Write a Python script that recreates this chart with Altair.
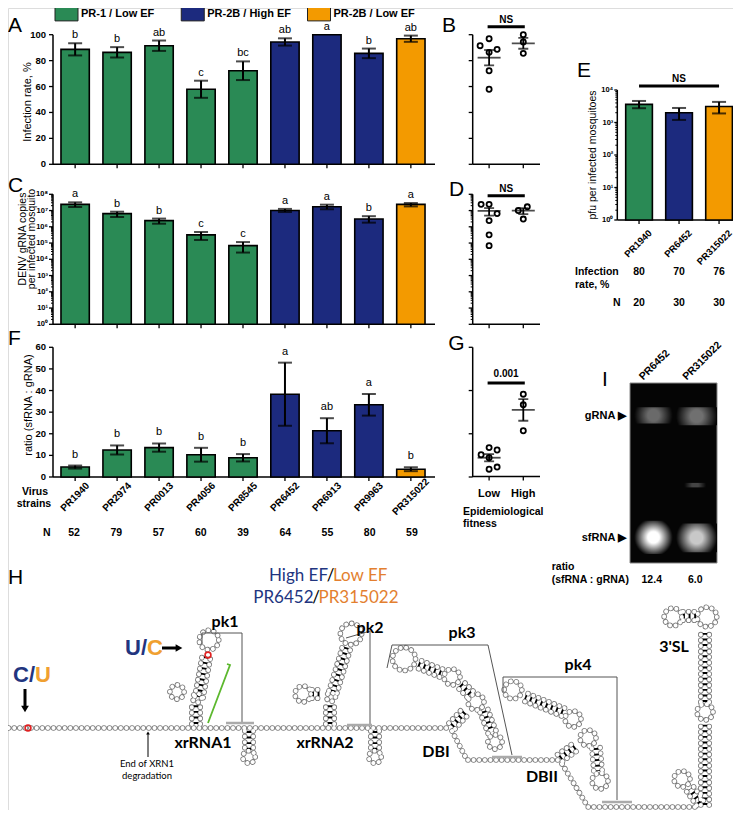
import math
import altair as alt
import pandas as pd

FONT = "Liberation Sans"
HFONT = "Lato"
OFF = 8
W, H = 725, 802


def c(v):
    return v - OFF


# ---------------- data ----------------
strains = ["PR1940", "PR2974", "PR0013", "PR4056", "PR8545", "PR6452", "PR6913", "PR9963", "PR315022"]
lineage = ["PR-1 / Low EF"] * 5 + ["PR-2B / High EF"] * 3 + ["PR-2B / Low EF"]
fitness = ["Low"] * 5 + ["High"] * 3 + ["Low"]
lineages = ["PR-1 / Low EF", "PR-2B / High EF", "PR-2B / Low EF"]
lineage_colors = ["#2a8a55", "#1c2a7e", "#f39a00"]

infection_rate = [88.7, 86.4, 91.5, 57.9, 72.2, 94.4, 100.0, 85.6, 96.9]
infection_sem = [4.7, 4.0, 4.0, 6.6, 7.2, 2.8, 0.0, 3.7, 2.4]
infection_letters = ["b", "b", "ab", "c", "bc", "ab", "a", "b", "ab"]

grna_copies = [2.4e7, 6.5e6, 2.4e6, 3.2e5, 6.9e4, 1.0e7, 1.7e7, 3.0e6, 2.4e7]
grna_low = [1.66e7, 4.0e6, 1.55e6, 1.55e5, 2.6e4, 8.1e6, 1.2e7, 1.8e6, 1.8e7]
grna_high = [3.2e7, 8.5e6, 3.2e6, 4.8e5, 1.15e5, 1.26e7, 2.3e7, 4.5e6, 2.9e7]
grna_letters = ["a", "b", "b", "c", "c", "a", "a", "b", "a"]

sf_ratio = [4.6, 12.5, 13.6, 10.3, 8.9, 38.3, 21.4, 33.4, 3.6]
sf_ratio_sem = [0.7, 2.1, 1.9, 3.2, 1.7, 14.6, 5.8, 5.0, 0.9]
sf_letters = ["b", "b", "b", "b", "b", "a", "ab", "a", "b"]
n_mosquitoes = [52, 79, 57, 60, 39, 64, 55, 80, 59]

e_strains = ["PR1940", "PR6452", "PR315022"]
e_lineage = ["PR-1 / Low EF", "PR-2B / High EF", "PR-2B / Low EF"]
pfu = [3.6e3, 2.0e3, 3.1e3]
pfu_low = [2.75e3, 1.2e3, 1.9e3]
pfu_high = [4.6e3, 2.8e3, 4.3e3]
e_infection = [80, 70, 76]
e_n = [20, 30, 30]

gel_lanes = ["PR6452", "PR315022"]
gel_ratio = ["12.4", "6.0"]
band_x0 = [0.1, 1.06, 0.1, 1.06, 1.25]
band_x1 = [0.98, 2.0, 0.98, 2.0, 1.75]
band_y0 = [0.775, 0.765, 0.05, 0.06, 0.42]
band_y1 = [0.865, 0.865, 0.235, 0.22, 0.445]
band_peak = ["#6a6a6a", "#707070", "#ffffff", "#c8c8c8", "#444444"]

# layout only: horizontal spread of overlapping dots (px)
jitter_B = [8, 0, -9, 0, 0, 0, 0, 0, 0]
jitter_D = [-8, 8, 0, 0, 0, -5, 4, 0, 0]
jitter_G = [8, 8, 0, -8, 0, 0, 0, 0, 0]

col = dict(zip(lineages, lineage_colors))
df = pd.DataFrame({
    "strain": strains, "lineage": lineage, "color": [col[l] for l in lineage], "fitness": fitness,
    "inf": infection_rate, "inf_sem": infection_sem, "inf_let": infection_letters,
    "grna": grna_copies, "grna_lo": grna_low, "grna_hi": grna_high, "grna_let": grna_letters,
    "ratio": sf_ratio, "ratio_sem": sf_ratio_sem, "ratio_let": sf_letters, "n": n_mosquitoes,
    "jB": jitter_B, "jD": jitter_D, "jG": jitter_G,
})
df["inf_lo"] = df["inf"] - df["inf_sem"]
df["inf_hi"] = df["inf"] + df["inf_sem"]
df["ratio_lo"] = df["ratio"] - df["ratio_sem"]
df["ratio_hi"] = df["ratio"] + df["ratio_sem"]

dfE = pd.DataFrame({"strain": e_strains, "color": [col[l] for l in e_lineage], "pfu": pfu,
                    "lo": pfu_low, "hi": pfu_high, "inf": e_infection, "n": e_n})
ANCHOR = pd.DataFrame({"k": [0]})

SUPS = ["\u2070", "\u00b9", "\u00b2", "\u00b3", "\u2074", "\u2075", "\u2076", "\u2077", "\u2078"]


def log_major(n):
    return [10 ** d for d in range(n + 1)]


def log_minor(n):
    return [k * 10 ** d for d in range(n) for k in range(2, 10)]


def log_labels(n):
    return ["10" + SUPS[d] for d in range(n + 1)]


# ---------- hand-built axes, drawn through each panel's scales ----------
def y_axis(ys, pos, dom, major, labels=None, minor=None, tick=4, minor_tick=2, size=9.5, pad=3):
    parts = [alt.Chart(ANCHOR).mark_rule(color="black", strokeWidth=1.5).encode(
        x=alt.value(pos), y=alt.Y(datum=dom[0], scale=ys, axis=None), y2=alt.datum(dom[1]))]
    mdf = pd.DataFrame({"v": major, "lab": labels if labels else [""] * len(major)})
    parts.append(alt.Chart(mdf).mark_rule(color="black", strokeWidth=1.3).encode(
        x=alt.value(pos - tick), x2=alt.value(pos), y=alt.Y("v:Q", scale=ys, axis=None)))
    if minor:
        parts.append(alt.Chart(pd.DataFrame({"v": minor})).mark_rule(color="black", strokeWidth=1).encode(
            x=alt.value(pos - minor_tick), x2=alt.value(pos), y=alt.Y("v:Q", scale=ys, axis=None)))
    if labels:
        parts.append(alt.Chart(mdf).mark_text(align="right", baseline="middle", font=FONT, fontSize=size,
                                              fontWeight="bold", color="black").encode(
            x=alt.value(pos - tick - pad), y=alt.Y("v:Q", scale=ys, axis=None), text="lab:N"))
    return parts


def x_axis(xs, field, cats, pos, x0, x1, tick=4):
    return [
        alt.Chart(ANCHOR).mark_rule(color="black", strokeWidth=1.5).encode(
            x=alt.value(x0), x2=alt.value(x1), y=alt.value(pos)),
        alt.Chart(pd.DataFrame({field: cats})).mark_rule(color="black", strokeWidth=1.3).encode(
            x=alt.X(f"{field}:N", scale=xs, axis=None), y=alt.value(pos), y2=alt.value(pos + tick)),
    ]


def x_labels(xs, cats, ypos, size=10, angle=315, dx=0, dy=0, align="center", baseline="middle"):
    kw = dict(font=FONT, fontSize=size, fontWeight="bold", color="black", align=align, baseline=baseline)
    if angle:
        kw["angle"] = angle
    if dx:
        kw["dx"] = dx
    if dy:
        kw["dy"] = dy
    return alt.Chart(pd.DataFrame({"cat": cats})).mark_text(**kw).encode(
        x=alt.X("cat:N", scale=xs, axis=None), y=alt.value(ypos), text="cat:N")


def note(s, x, y, size=11, weight="normal", align="center", color="black", font=FONT, baseline="middle", angle=0):
    kw = dict(text=s, fontSize=size, fontWeight=weight, align=align, baseline=baseline, color=color, font=font)
    if angle:
        kw["angle"] = angle
    return alt.Chart(ANCHOR).mark_text(**kw).encode(x=alt.value(c(x)), y=alt.value(c(y)))


def bar_panel(data, xs, ys, v, lo, hi, let, axes, base, let_dy=-3, cap=14):
    b = alt.Chart(data)
    X = alt.X("strain:N", scale=xs, axis=None)
    parts = list(axes)
    parts.append(b.mark_bar(stroke="black", strokeWidth=1.6).encode(
        x=X, y=alt.Y(f"{v}:Q", scale=ys, axis=None), y2=alt.datum(base),
        color=alt.Color("color:N", scale=None)))
    eb = b.transform_filter(f"datum.{hi} > datum.{lo}")
    parts.append(eb.mark_rule(color="black", strokeWidth=2).encode(
        x=X, y=alt.Y(f"{lo}:Q", scale=ys, axis=None), y2=alt.Y2(hi)))
    for f in (lo, hi):
        parts.append(eb.mark_tick(color="black", size=cap, thickness=2).encode(
            x=X, y=alt.Y(f"{f}:Q", scale=ys, axis=None)))
    if let:
        parts.append(b.mark_text(font=FONT, fontSize=11, baseline="bottom", dy=let_dy, color="black").encode(
            x=X, y=alt.Y(f"{hi}:Q", scale=ys, axis=None), text=f"{let}:N"))
    return alt.layer(*parts)


xs_dot = alt.Scale(type="point", domain=["Low", "High"], range=[c(472.7), c(539.7)], padding=0.48)


def dot_panel(v, jit, ys, axes, sig_text, sig_y, txt_y):
    b = alt.Chart(df)
    X = alt.X("fitness:N", scale=xs_dot, axis=None)
    pts = b.mark_point(shape="circle", size=26, filled=False, color="black", strokeWidth=1.8, opacity=1).encode(
        x=X, y=alt.Y(f"{v}:Q", scale=ys, axis=None), xOffset=alt.XOffset(f"{jit}:Q", scale=None))
    m, sd, n, lo, hi = (f"{v}_mean", f"{v}_sd", f"{v}_n", f"{v}_selo", f"{v}_sehi")
    agg = b.transform_aggregate(**{m: f"mean({v})", sd: f"stdev({v})", n: "count()"}, groupby=["fitness"]).transform_calculate(
        **{lo: f"datum.{m} - datum.{sd} / sqrt(datum.{n})", hi: f"datum.{m} + datum.{sd} / sqrt(datum.{n})"})
    mean = agg.mark_tick(color="black", size=23, thickness=1.8).encode(x=X, y=alt.Y(f"{m}:Q", scale=ys, axis=None))
    vr = agg.mark_rule(color="black", strokeWidth=1.8).encode(x=X, y=alt.Y(f"{lo}:Q", scale=ys, axis=None), y2=f"{hi}:Q")
    caps = [agg.mark_tick(color="black", size=10, thickness=1.8).encode(x=X, y=alt.Y(f"{f}:Q", scale=ys, axis=None))
            for f in (lo, hi)]
    sig = alt.Chart(ANCHOR).mark_rule(color="black", strokeWidth=3, strokeCap="square").encode(
        x=alt.X(datum="Low", scale=xs_dot, axis=None), x2=alt.datum("High"),
        y=alt.Y(datum=sig_y, scale=ys, axis=None))
    sigt = alt.Chart(ANCHOR).mark_text(text=sig_text, font=FONT, fontSize=10, fontWeight="bold", dx=17,
                                       color="black").encode(
        x=alt.X(datum="Low", scale=xs_dot, axis=None), y=alt.Y(datum=txt_y, scale=ys, axis=None))
    return alt.layer(*axes, pts, vr, *caps, mean, sig, sigt)


layers = []

# ---------- legend ----------
SWATCH = "M-1,-0.6L1,-0.6L1,0.6L-1,0.6Z"
dleg = pd.DataFrame({"lineage": lineages, "color": lineage_colors})
xleg = alt.X("lineage:N", scale=alt.Scale(type="point", domain=lineages, range=[c(66.5), c(319)], padding=0), axis=None)
layers.append(alt.layer(
    alt.Chart(dleg).mark_point(shape=SWATCH, size=529, filled=True, stroke="#222", strokeWidth=1, opacity=1).encode(
        x=xleg, y=alt.value(c(14)), color=alt.Color("color:N", scale=None)),
    alt.Chart(dleg).mark_text(align="left", dx=14.5, fontWeight="bold", fontSize=11, font=FONT, color="black").encode(
        x=xleg, y=alt.value(c(14)), text="lineage:N"),
))

# ---------- A ----------
xsA = alt.Scale(domain=strains, range=[c(53), c(433)], paddingInner=0.325, paddingOuter=0.19)
ysA = alt.Scale(domain=[0, 100], range=[c(164.3), c(34.7)], nice=False, zero=False)
tA = [0, 20, 40, 60, 80, 100]
axA = y_axis(ysA, c(53), (0, 100), tA, [str(t) for t in tA]) + x_axis(xsA, "strain", strains, c(164.3), c(53), c(435))
layers.append(bar_panel(df, xsA, ysA, "inf", "inf_lo", "inf_hi", "inf_let", axA, 0, let_dy=-3))
layers.append(note("Infection rate, %", 27.5, 102, size=11, angle=270))

# ---------- C ----------
ysC = alt.Scale(type="log", domain=[1, 1e8], range=[c(324.3), c(194.3)], nice=False)
axC = y_axis(ysC, c(53), (1, 1e8), log_major(8), log_labels(8), log_minor(8), tick=4, size=7.5, pad=1) + \
    x_axis(xsA, "strain", strains, c(324.3), c(53), c(435))
layers.append(bar_panel(df, xsA, ysC, "grna", "grna_lo", "grna_hi", "grna_let", axC, 1, let_dy=-3))
layers.append(note("DENV gRNA copies", 22.5, 239, size=10.5, angle=270))
layers.append(note("per infected mosquito", 31.5, 239, size=10.5, angle=270))

# ---------- F ----------
ysF = alt.Scale(domain=[0, 60], range=[c(477), c(347.3)], nice=False, zero=False)
tF = [0, 10, 20, 30, 40, 50, 60]
axF = y_axis(ysF, c(53), (0, 60), tF, [str(t) for t in tF]) + x_axis(xsA, "strain", strains, c(477), c(53), c(435)) + \
    [x_labels(xsA, strains, c(497), size=10)]
layers.append(bar_panel(df, xsA, ysF, "ratio", "ratio_lo", "ratio_hi", "ratio_let", axF, 0, let_dy=-6))
layers.append(note("ratio (sfRNA : gRNA)", 29, 405, size=11, angle=270))
layers.append(alt.Chart(df).mark_text(font=FONT, fontSize=10.5, fontWeight="bold", color="black").encode(
    x=alt.X("strain:N", scale=xsA, axis=None), y=alt.value(c(533)), text="n:Q"))
layers.append(note("N", 46.7, 533, size=10.5, weight="bold"))
layers.append(note("Virus", 35, 492, size=10.5, weight="bold"))
layers.append(note("strains", 34, 504, size=10.5, weight="bold"))

# ---------- B, D, G ----------
axB = y_axis(ysA, c(472.7), (0, 100), tA) + x_axis(xs_dot, "fitness", ["Low", "High"], c(164.3), c(472.7), c(540))
layers.append(dot_panel("inf", "jB", ysA, axB, "NS", 106.2, 111.5))
axD = y_axis(ysC, c(472.7), (1, 1e8), log_major(8), None, log_minor(8)) + \
    x_axis(xs_dot, "fitness", ["Low", "High"], c(324.3), c(472.7), c(540))
layers.append(dot_panel("grna", "jD", ysC, axD, "NS", 8e7, 2.2e8))
axG = y_axis(ysF, c(472.7), (0, 60), [0, 20, 40, 60]) + \
    x_axis(xs_dot, "fitness", ["Low", "High"], c(476.5), c(472.7), c(540)) + \
    [x_labels(xs_dot, ["Low", "High"], c(494), size=11, angle=0)]
layers.append(dot_panel("ratio", "jG", ysF, axG, "0.001", 43.5, 47.5))
layers.append(note("Epidemiological", 463, 512, size=10.5, weight="bold", align="left"))
layers.append(note("fitness", 463, 524, size=10.5, weight="bold", align="left"))

# ---------- E ----------
xsE = alt.Scale(domain=e_strains, range=[c(617.3), c(740.8)], paddingInner=0.333, paddingOuter=0.21)
ysE = alt.Scale(type="log", domain=[1, 1e4], range=[c(220), c(90)], nice=False)
axE = y_axis(ysE, c(617.3), (1, 1e4), log_major(4), log_labels(4), log_minor(4), tick=3, size=7.5, pad=1) + \
    x_axis(xsE, "strain", e_strains, c(220), c(617.3), c(740)) + \
    [x_labels(xsE, e_strains, c(228), size=9.5, dx=5.5, dy=5.5, align="right", baseline="top")]
layers.append(alt.layer(
    bar_panel(dfE, xsE, ysE, "pfu", "lo", "hi", None, axE, 1),
    alt.Chart(ANCHOR).mark_rule(color="black", strokeWidth=3).encode(
        x=alt.X(datum="PR1940", scale=xsE, axis=None), x2=alt.datum("PR315022"),
        y=alt.Y(datum=1.33e4, scale=ysE, axis=None)),
    alt.Chart(ANCHOR).mark_text(text="NS", font=FONT, fontSize=10, fontWeight="bold", color="black").encode(
        x=alt.X(datum="PR6452", scale=xsE, axis=None), y=alt.Y(datum=2.2e4, scale=ysE, axis=None)),
    alt.Chart(dfE).mark_text(font=FONT, fontSize=10.5, fontWeight="bold", color="black").encode(
        x=alt.X("strain:N", scale=xsE, axis=None), y=alt.value(c(272)), text="inf:Q"),
    alt.Chart(dfE).mark_text(font=FONT, fontSize=10.5, fontWeight="bold", color="black").encode(
        x=alt.X("strain:N", scale=xsE, axis=None), y=alt.value(c(303)), text="n:Q"),
))
layers.append(note("pfu per infected mosquitoes", 592.5, 155, size=10.5, angle=270))
layers.append(note("Infection", 575, 272, size=10.5, weight="bold", align="left"))
layers.append(note("rate, %", 575, 284.5, size=10.5, weight="bold", align="left"))
layers.append(note("N", 616.7, 303, size=10.5, weight="bold"))

# ---------- I (gel) ----------
xsI = alt.Scale(domain=[0, 2], range=[c(630), c(717)], nice=False, zero=False)
ysI = alt.Scale(domain=[0, 1], range=[c(563), c(383)], nice=False, zero=False)
gel_parts = [alt.Chart(ANCHOR).mark_rect(color="#050505", stroke="#888", strokeWidth=1).encode(
    x=alt.X(datum=0, scale=xsI, axis=None), x2=alt.datum(2), y=alt.Y(datum=0, scale=ysI, axis=None), y2=alt.datum(1))]
for i in range(len(band_x0)):
    bd = pd.DataFrame({"x0": [band_x0[i]], "x1": [band_x1[i]], "y0": [band_y0[i]], "y1": [band_y1[i]]})
    grad = alt.RadialGradient(gradient="radial", stops=[alt.GradientStop(color=band_peak[i], offset=0),
                                                         alt.GradientStop(color=band_peak[i], offset=0.3),
                                                         alt.GradientStop(color="#050505", offset=1)])
    gel_parts.append(alt.Chart(bd).mark_rect(color=grad).encode(
        x=alt.X("x0:Q", scale=xsI, axis=None), x2="x1", y=alt.Y("y0:Q", scale=ysI, axis=None), y2="y1"))
for lab, yy in (("gRNA \u25b6", 0.817), ("sfRNA \u25b6", 0.139)):
    gel_parts.append(alt.Chart(ANCHOR).mark_text(text=lab, align="right", dx=-4, font=FONT, fontSize=11,
                                                 fontWeight="bold", color="black").encode(
        x=alt.X(datum=0, scale=xsI, axis=None), y=alt.Y(datum=yy, scale=ysI, axis=None)))
gdf = pd.DataFrame({"lane_x": [0.5, 1.5], "ratio": gel_ratio, "lane": gel_lanes})
gel_parts.append(alt.Chart(gdf).mark_text(font=FONT, fontSize=10.5, fontWeight="bold", color="black").encode(
    x=alt.X("lane_x:Q", scale=xsI, axis=None), y=alt.Y(datum=-0.094, scale=ysI, axis=None), text="ratio:N"))
gel_parts.append(alt.Chart(gdf).mark_text(font=FONT, fontSize=10.5, fontWeight="bold", color="black", angle=315,
                                          align="left", baseline="bottom", dx=-5, dy=-5).encode(
    x=alt.X("lane_x:Q", scale=xsI, axis=None), y=alt.value(c(382)), text="lane:N"))
layers.append(alt.layer(*gel_parts))
layers.append(note("ratio", 551.7, 567, size=10.5, weight="bold", align="left"))
layers.append(note("(sfRNA : gRNA)", 551.7, 580, size=10.5, weight="bold", align="left"))

# ---------- panel letters ----------
for s, x, y, al in (("A", 8, 26, "left"), ("B", 449, 26, "center"), ("C", 8, 186, "left"),
                    ("D", 456.5, 190, "center"), ("E", 584, 70.5, "center"), ("F", 8, 338.5, "left"),
                    ("G", 456.5, 343.5, "center"), ("H", 8, 577.5, "left"), ("I", 605, 380, "center")):
    layers.append(note(s, x, y, size=21, align=al))

# ---------- H (RNA structure schematic) ----------
hx = alt.Scale(domain=[OFF, W + OFF], range=[0, W], nice=False, zero=False)
hy = alt.Scale(domain=[OFF, H + OFF], range=[0, H], nice=False, zero=False)
HX = lambda f: alt.X(f, scale=hx, axis=None)
HY = lambda f: alt.Y(f, scale=hy, axis=None)

chains = [
    [(3, 728), (449, 728)],
    [(452, 731), (467, 760), (560, 760)],
    [(562, 764), (588, 807), (700, 807)],
]
stems = [
    (196, 724, 196, 703), (199, 697, 207, 653), (249, 731, 249, 750),
    (330, 724, 330, 703), (312, 694, 323, 694), (333, 692, 347, 646), (375, 731, 375, 750),
    (452, 726, 467, 710), (470, 694, 460, 684), (441, 673, 418, 664), (484, 711, 492, 732),
    (560, 758, 578, 745), (563, 712, 525, 697), (596, 748, 598, 771),
    (700, 803, 690, 789), (705, 805, 705, 722), (705, 702, 705, 630), (683, 616, 696, 616),
]
loops = [
    (177, 692, 8), (197, 698, 5), (209, 640, 11), (249, 757, 7),
    (303, 694, 9), (331, 697, 5), (351, 634, 12), (375, 757, 7),
    (476, 702, 9), (452, 677, 9), (404, 659, 13), (495, 742, 8),
    (588, 738, 9), (573, 719, 9), (513, 690, 10), (600, 781, 9),
    (682, 779, 9), (705, 712, 9), (707, 617, 11), (673, 617, 10),
]
boxes = [
    [(202, 644), (202, 633), (242, 633), (242, 723)],
    [(346, 638), (370, 631), (370, 724)],
    [(387, 668), (392, 645), (488, 645), (512, 755)],
    [(503, 693), (503, 677), (617, 677), (617, 800)],
]
stubs = [[(226, 723), (254, 723)], [(347, 725), (372, 725)], [(492, 757), (522, 757)], [(602, 802), (632, 802)]]


def strands(x1, y1, x2, y2, h=4.2):
    dx, dy = x2 - x1, y2 - y1
    L = math.hypot(dx, dy)
    nx, ny = -dy / L * h, dx / L * h
    return [[(x1 + nx, y1 + ny), (x2 + nx, y2 + ny)], [(x1 - nx, y1 - ny), (x2 - nx, y2 - ny)]]


all_chains = list(chains)
for s in stems:
    all_chains += strands(*s)


def poly_df(polys):
    rows = []
    for i, p in enumerate(polys):
        for j, (x, y) in enumerate(p):
            rows.append({"id": i, "ord": j, "x": x, "y": y})
    return pd.DataFrame(rows)


chain_df = poly_df(all_chains)
loop_df = pd.DataFrame({"x": [l[0] for l in loops], "y": [l[1] for l in loops],
                        "area": [math.pi * l[2] ** 2 for l in loops]})
stem_df = pd.DataFrame({"x1": [s[0] for s in stems], "y1": [s[1] for s in stems],
                        "x2": [s[2] for s in stems], "y2": [s[3] for s in stems]})


def chain_layer(width, color):
    return alt.Chart(chain_df).mark_line(color=color, strokeWidth=width, strokeDash=[0.01, 5.6],
                                         strokeCap="round").encode(
        x=HX("x:Q"), y=HY("y:Q"), detail="id:N", order="ord:Q")


def loop_layer(width, color):
    return alt.Chart(loop_df).mark_point(shape="circle", filled=False, color=color, strokeWidth=width,
                                         strokeDash=[0.01, 5.6], strokeCap="round", opacity=1).encode(
        x=HX("x:Q"), y=HY("y:Q"), size=alt.Size("area:Q", scale=None))


def htext(s, x, y, size=16, weight="bold", color="black", align="center", font=HFONT):
    return alt.Chart(ANCHOR).mark_text(text=s, fontSize=size, fontWeight=weight, color=color, align=align,
                                       baseline="middle", font=font).encode(
        x=alt.X(datum=x, scale=hx, axis=None), y=alt.Y(datum=y, scale=hy, axis=None))


HBLUE, HORANGE = "#22357f", "#e37f2f"
h_parts = [
    chain_layer(5.6, "#7a7a7a"), loop_layer(5.6, "#7a7a7a"),
    alt.Chart(stem_df).mark_rule(color="black", strokeWidth=4.6, strokeDash=[1.9, 3.7]).encode(
        x=HX("x1:Q"), y=HY("y1:Q"), x2="x2:Q", y2="y2:Q"),
    chain_layer(4.0, "white"), loop_layer(4.0, "white"),
    alt.Chart(poly_df(boxes)).mark_line(color="#555", strokeWidth=1).encode(
        x=HX("x:Q"), y=HY("y:Q"), detail="id:N", order="ord:Q"),
    alt.Chart(poly_df(stubs)).mark_line(color="#aaa", strokeWidth=2.5).encode(
        x=HX("x:Q"), y=HY("y:Q"), detail="id:N", order="ord:Q"),
    alt.Chart(poly_df([[(227, 664), (230, 665), (208, 723)]])).mark_line(color="#5cb82e", strokeWidth=1.8).encode(
        x=HX("x:Q"), y=HY("y:Q"), detail="id:N", order="ord:Q"),
    alt.Chart(pd.DataFrame({"x": [28, 208], "y": [728, 655]})).mark_point(
        shape="circle", filled=False, color="#e02020", strokeWidth=1.6, size=34, opacity=1).encode(
        x=HX("x:Q"), y=HY("y:Q")),
    alt.Chart(pd.DataFrame({"x1": [25, 162, 148], "y1": [689, 648, 757], "x2": [25, 176, 148], "y2": [706, 648, 734],
                            "w": [3, 3, 1]})).mark_rule(color="black").encode(
        x=HX("x1:Q"), y=HY("y1:Q"), x2="x2:Q", y2="y2:Q", strokeWidth=alt.StrokeWidth("w:Q", scale=None)),
    alt.Chart(pd.DataFrame({"x": [25], "y": [709]})).mark_point(shape="triangle-down", filled=True, color="black",
                                                               size=60, opacity=1).encode(x=HX("x:Q"), y=HY("y:Q")),
    alt.Chart(pd.DataFrame({"x": [179], "y": [648]})).mark_point(shape="triangle-right", filled=True, color="black",
                                                                size=60, opacity=1).encode(x=HX("x:Q"), y=HY("y:Q")),
    alt.Chart(pd.DataFrame({"x": [148], "y": [733]})).mark_point(shape="triangle-up", filled=True, color="black",
                                                                size=14, opacity=1).encode(x=HX("x:Q"), y=HY("y:Q")),
    htext("pk1", 225, 622), htext("pk2", 370, 628), htext("pk3", 462, 633), htext("pk4", 578, 665),
    htext("3'SL", 674, 647), htext("xrRNA1", 203, 743), htext("xrRNA2", 325, 743),
    htext("DBI", 436, 752), htext("DBII", 542, 777),
    htext("End of XRN1", 147, 764, size=9.5, weight="normal"),
    htext("degradation", 147, 776, size=9.5, weight="normal"),
    htext("High EF", 328, 576, size=17, weight="normal", color=HBLUE, align="right"),
    htext("/", 330.5, 576, size=17, weight="normal"),
    htext("Low EF", 333, 576, size=17, weight="normal", color=HORANGE, align="left"),
    htext("PR6452", 313.5, 598, size=17, weight="normal", color=HBLUE, align="right"),
    htext("/", 316, 598, size=17, weight="normal"),
    htext("PR315022", 318.5, 598, size=17, weight="normal", color=HORANGE, align="left"),
    htext("C/", 35, 675, size=22, color=HBLUE, align="right", font=FONT),
    htext("U", 35, 675, size=22, color="#f0a030", align="left", font=FONT),
    htext("U/", 147, 648, size=22, color=HBLUE, align="right", font=FONT),
    htext("C", 147, 648, size=22, color="#f0a030", align="left", font=FONT),
]
layers.append(alt.layer(*h_parts))

chart = alt.layer(*layers).resolve_scale(x="independent", y="independent").properties(
    width=W, height=H, padding=0, autosize=alt.AutoSizeParams(type="none")
).configure_view(stroke="transparent").configure(font=FONT)

chart.save("out.html", embed_options={"renderer": "svg", "actions": False})
